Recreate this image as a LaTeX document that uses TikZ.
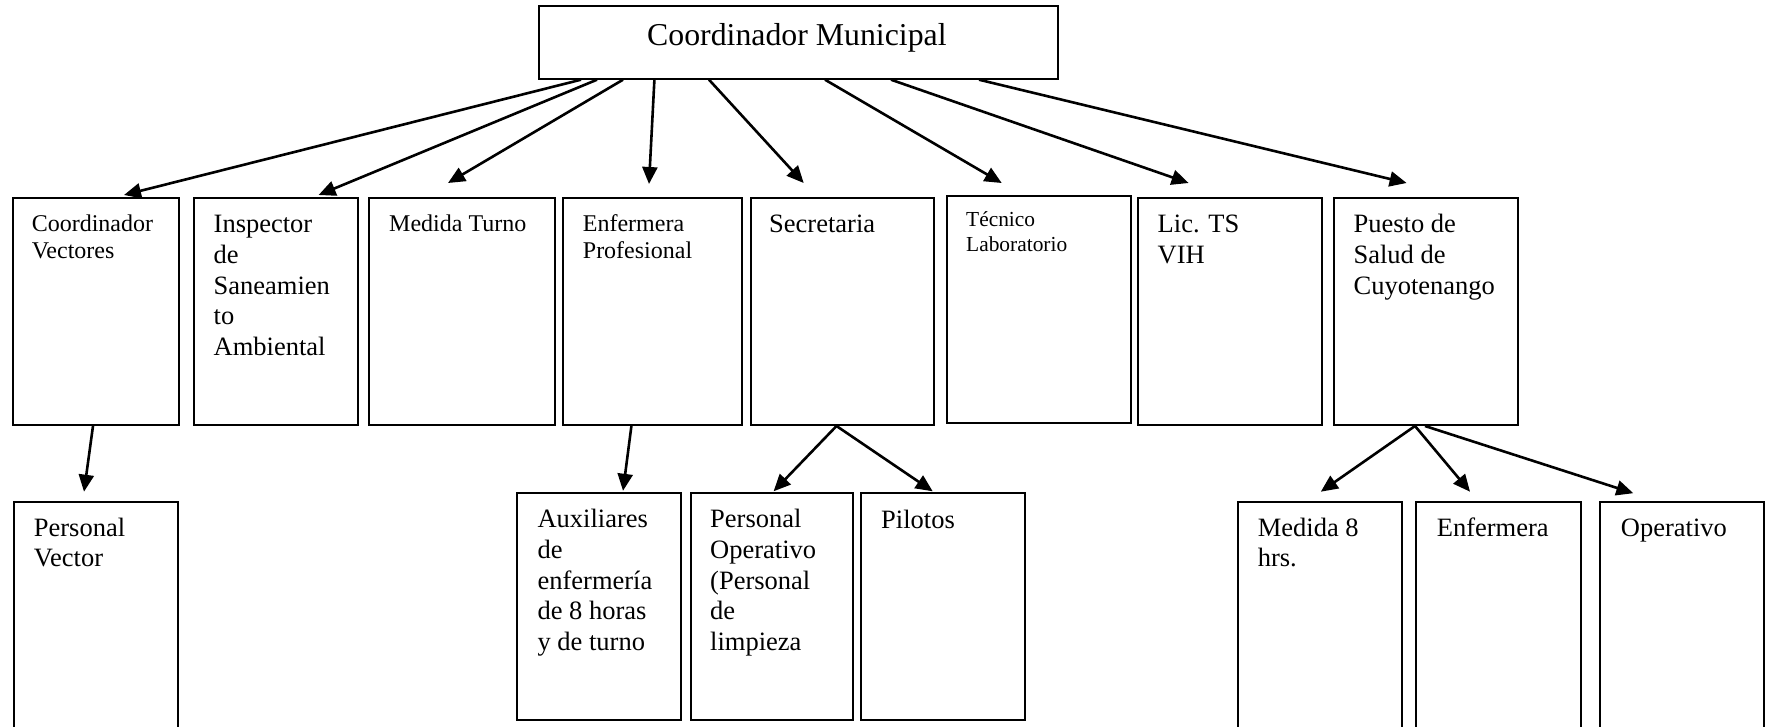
\documentclass[tikz,border=0pt]{standalone}
\usepackage{fontspec}
\setmainfont{Liberation Serif}
\usetikzlibrary{arrows.meta,calc}
\newcommand{\mylines}[1]{\vtop{\halign{##\hfil\cr #1\crcr}}}
\begin{document}
\begin{tikzpicture}[x=1pt,y=-1pt,
  box/.style={draw, line width=2pt, inner sep=0pt, anchor=north west},
  lbl/.style={anchor=base west, inner sep=0pt},
  big/.style={font=\fontsize{31.8}{38}\selectfont},
  body/.style={font=\fontsize{26.5}{30.8}\selectfont},
  small/.style={font=\fontsize{24}{27}\selectfont},
  tiny/.style={font=\fontsize{21.4}{25}\selectfont},
  arr/.style={line width=2.6pt, -{Triangle[length=17pt,width=15pt]}}]
\useasboundingbox (0,0) rectangle (1768,726);
\clip (0,0) rectangle (1768,726);
% top
\node[box, minimum width=519, minimum height=73.2] (top) at (538,4.5) {};
% row 1
\node[box, minimum width=166, minimum height=227] (cv) at (11.5,197) {};
\node[box, minimum width=163.5, minimum height=227] (insp) at (193,197) {};
\node[box, minimum width=186, minimum height=227] (mt) at (368,197) {};
\node[box, minimum width=178.5, minimum height=227] (ep) at (562,197) {};
\node[box, minimum width=182.7, minimum height=227] (sec) at (750,197) {};
\node[box, minimum width=183.5, minimum height=227] (tec) at (946,195) {};
\node[box, minimum width=183.5, minimum height=227] (lic) at (1137,197) {};
\node[box, minimum width=183.7, minimum height=227] (pu) at (1333,197) {};
% row 2
\node[box, minimum width=164.2, minimum height=240] (pv) at (12.6,500.7) {};
\node[box, minimum width=164, minimum height=226.7] (aux) at (516,492.3) {};
\node[box, minimum width=162.7, minimum height=226.7] (po) at (689.6,492.3) {};
\node[box, minimum width=163.5, minimum height=226.7] (pil) at (860,492.3) {};
\node[box, minimum width=164, minimum height=240] (m8) at (1236.8,500.7) {};
\node[box, minimum width=164.5, minimum height=240] (enf) at (1415.3,500.7) {};
\node[box, minimum width=164.4, minimum height=240] (op) at (1599,500.7) {};
% texts
\node[lbl, big] (top-t) at (647,45) {Coordinador Municipal};
\node[lbl, small] (cv-t) at ($(cv.north west)+(20.1,34)$) {\mylines{Coordinador\cr Vectores}};
\node[lbl, body] (insp-t) at ($(insp.north west)+(20.5,35.5)$) {\mylines{Inspector\cr de\cr Saneamien\cr to\cr Ambiental}};
\node[lbl, small] (mt-t) at ($(mt.north west)+(21,34)$) {Medida Turno};
\node[lbl, small] (ep-t) at ($(ep.north west)+(20.7,34)$) {\mylines{Enfermera\cr Profesional}};
\node[lbl, body] (sec-t) at ($(sec.north west)+(19,35.5)$) {Secretaria};
\node[lbl, tiny] (tec-t) at ($(tec.north west)+(20,31)$) {\mylines{Técnico\cr Laboratorio}};
\node[lbl, body] (lic-t) at ($(lic.north west)+(20.5,35.5)$) {\mylines{Lic. TS\cr VIH}};
\node[lbl, body] (pu-t) at ($(pu.north west)+(20.4,35.5)$) {\mylines{Puesto de\cr Salud de\cr Cuyotenango}};
\node[lbl, body] (pv-t) at ($(pv.north west)+(21.1,35.3)$) {\mylines{Personal\cr Vector}};
\node[lbl, body] (aux-t) at ($(aux.north west)+(21.4,35.2)$) {\mylines{Auxiliares\cr de\cr enfermería\cr de 8 horas\cr y de turno}};
\node[lbl, body] (po-t) at ($(po.north west)+(20.4,35.2)$) {\mylines{Personal\cr Operativo\cr (Personal\cr de\cr limpieza}};
\node[lbl, body] (pil-t) at ($(pil.north west)+(21,35.7)$) {Pilotos};
\node[lbl, body] (m8-t) at ($(m8.north west)+(20.8,35.3)$) {\mylines{Medida 8\cr hrs.}};
\node[lbl, body] (enf-t) at ($(enf.north west)+(21.3,35.3)$) {Enfermera};
\node[lbl, body] (op-t) at ($(op.north west)+(21.7,35.3)$) {Operativo};
% arrows from top
\draw[arr] ($(top.south west)+(43,0)$) -- ($(cv.north west)+(112.5,-2)$);
\draw[arr] ($(top.south west)+(59,0)$) -- ($(insp.north west)+(125.6,-2)$);
\draw[arr] ($(top.south west)+(85,0)$) -- ($(mt.north west)+(80,-14)$);
\draw[arr] ($(top.south west)+(116.4,0)$) -- ($(ep.north west)+(87,-13)$);
\draw[arr] ($(top.south west)+(171,0)$) -- ($(sec.north west)+(53.7,-14)$);
\draw[arr] ($(top.south west)+(287,0)$) -- ($(tec.north west)+(55.7,-12)$);
\draw[arr] ($(top.south west)+(353,0)$) -- ($(lic.north west)+(51.6,-14)$);
\draw[arr] ($(top.south west)+(441,0)$) -- ($(pu.north west)+(73.6,-14)$);
% arrows to row 2
\draw[arr] ($(cv.south west)+(81.5,0)$) -- ($(pv.north west)+(71.4,-9)$);
\draw[arr] ($(ep.south west)+(69.4,0)$) -- ($(aux.north west)+(107,-1.5)$);
\draw[arr] ($(sec.south west)+(86.5,0)$) -- ($(po.north west)+(84,-1)$);
\draw[arr] ($(sec.south west)+(86.5,0)$) -- ($(pil.north west)+(72.7,-1)$);
\draw[arr] ($(pu.south west)+(82,0)$) -- ($(m8.north west)+(84,-9)$);
\draw[arr] ($(pu.south west)+(82,0)$) -- ($(enf.north west)+(54.7,-9)$);
\draw[arr] ($(pu.south west)+(92,0)$) -- ($(op.north west)+(34.3,-7.5)$);
\end{tikzpicture}
\end{document}
